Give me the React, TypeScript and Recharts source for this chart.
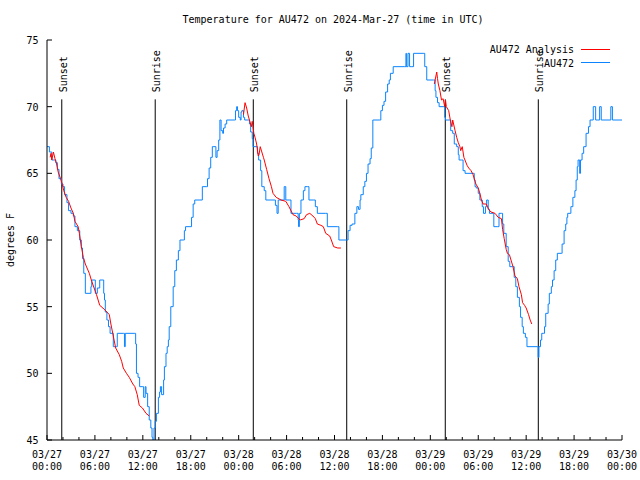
import React from 'react';
import { LineChart, Line, XAxis, YAxis, ReferenceLine } from 'recharts';

// ---------- data ----------
const obsHours = [
  0, 0.3, 0.6, 1.1, 1.3, 1.5, 1.8, 2.0, 2.2, 2.5, 2.7, 3.0, 3.3, 3.5, 3.8, 4.1, 4.3, 4.45, 4.6, 4.8,
  5.4, 5.5, 5.6, 5.9, 6.05, 6.3, 6.6, 7.0, 7.1, 7.2, 7.3, 7.5, 7.7, 7.9, 8.2, 8.3, 8.7, 8.8, 9.6, 9.7,
  9.8, 11.0, 11.1, 11.2, 11.4, 11.6, 12.0, 12.1, 12.3, 12.4, 12.6, 12.8, 13.0, 13.15, 13.25, 13.4, 13.55, 13.7, 13.95, 14.1,
  14.2, 14.35, 14.6, 14.7, 14.9, 15.05, 15.2, 15.3, 15.5, 15.8, 16.0, 16.2, 16.45, 16.65, 17.1, 17.2, 17.35, 17.9, 18.1, 18.3,
  18.5, 19.15, 19.45, 20.0, 20.1, 20.3, 20.5, 20.7, 20.9, 21.15, 21.3, 21.5, 21.65, 21.8, 22.0, 22.1, 22.3, 22.5, 23.45, 23.6,
  23.75, 23.85, 24.0, 24.2, 24.3, 24.4, 24.6, 24.75, 25.2, 25.35, 25.5, 25.7, 25.8, 26.2, 26.35, 26.5, 26.75, 26.9, 27.2, 27.4,
  28.45, 28.6, 28.8, 28.95, 29.6, 29.7, 29.9, 30.4, 30.55, 31.25, 31.45, 31.5, 31.6, 31.8, 32.1, 32.3, 32.6, 32.8, 33.4, 33.6,
  33.85, 34.9, 35.1, 36.35, 36.55, 37.5, 37.7, 37.95, 38.2, 38.55, 38.8, 39.0, 39.2, 39.3, 39.6, 39.8, 40.0, 40.2, 40.45, 40.6,
  40.8, 41.6, 41.8, 42.0, 42.2, 42.4, 42.65, 42.85, 43.0, 43.35, 44.8, 44.95, 45.0, 45.2, 45.4, 45.6, 45.9, 47.1, 47.3, 47.55,
  48.4, 48.6, 48.7, 48.9, 49.1, 49.6, 49.8, 49.9, 50.4, 50.55, 50.8, 51.0, 51.3, 51.5, 51.6, 51.9, 52.1, 52.35, 53.3, 53.5,
  53.6, 53.75, 54.0, 54.2, 54.4, 54.5, 54.65, 54.9, 55.05, 55.25, 55.4, 55.9, 55.95, 56.45, 56.6, 56.9, 57.05, 57.2, 57.5, 57.75,
  57.95, 58.3, 58.5, 58.7, 58.9, 59.15, 59.3, 59.5, 59.65, 59.9, 60.1, 61.4, 61.5, 61.6, 61.8, 61.95, 62.2, 62.3, 62.45, 62.75,
  62.9, 63.15, 63.3, 63.5, 63.7, 63.9, 64.4, 64.5, 64.75, 64.95, 65.1, 65.2, 65.5, 65.6, 65.85, 66.1, 66.25, 66.4, 66.5, 66.7,
  66.8, 67.0, 67.2, 67.5, 67.8, 68.0, 68.4, 68.7, 68.9, 69.2, 69.4, 70.5, 70.6, 70.8, 72
];
const obsTemps = [
  67, 66.6, 66, 65.8, 65.3, 64.6, 64.2, 64, 63.4, 62.8, 62.2, 62, 61.8, 61, 60.7, 60, 59.4, 58.6, 57.5, 56,
  56, 56.5, 57, 57, 56, 56.4, 57, 57, 56, 55.5, 54.6, 54, 53.5, 53, 53, 52, 52, 53, 53, 52,
  53, 53, 52.2, 50, 49.7, 49, 49, 48.2, 49, 48.5, 47.5, 46.5, 45.9, 45.2, 45, 45.9, 46.4, 47, 48.2, 48.6,
  49, 48.4, 49.5, 50.5, 51.5, 52, 52.5, 53.5, 55, 56.5, 57.7, 58.5, 59.2, 60, 60, 60.7, 61, 61, 61.7, 62.7,
  63, 63, 64, 64, 64.6, 65.4, 66.2, 67, 67, 66.2, 66.7, 67.5, 69, 68.2, 68, 68.4, 68.7, 69, 69, 69.7,
  70, 69.7, 69.2, 69, 69.6, 69.7, 69.2, 69, 69, 68.7, 68.1, 67.6, 67, 67, 66.5, 66, 65.2, 64, 63.7, 63,
  63, 62.6, 62, 63, 63, 64, 63, 63, 62, 62, 61.5, 61, 62, 63, 63.7, 64, 64, 63, 63, 62.5,
  62, 62, 61, 61, 60, 60, 60.7, 61.1, 61.2, 62, 62.5, 62.3, 63, 63.4, 64, 64.4, 65, 65.7, 66.1, 66.9,
  69, 69, 69.7, 70.1, 70.4, 71.1, 71.7, 72, 72.5, 73, 73, 74, 73, 74, 73, 73, 74, 74, 73, 72,
  72, 71.2, 70.7, 70.3, 70, 70, 69.2, 69, 69, 68.2, 68, 67.2, 67, 66.4, 66, 66, 65.2, 65, 65, 64.5,
  64, 63.9, 63.5, 63, 63, 62.5, 62, 62.5, 63, 62.3, 62, 62, 61, 61, 62, 62, 61.2, 60.5, 59.5, 58.4,
  58, 58, 57.2, 56.5, 55.7, 55, 54.2, 53.5, 53, 52.7, 52, 52, 51.2, 52, 52.5, 53, 53, 53.5, 54.5, 55.2,
  56, 56.5, 57, 57.7, 58.5, 59, 59, 59.7, 60.7, 61.2, 61.7, 62, 62, 62.5, 63.2, 63.7, 64.5, 65.5, 66, 65,
  66, 66.5, 67, 68, 68.5, 69, 70, 69, 69, 70, 69, 69, 70, 69, 69
];

const anaHours1 = [
  0.4, 0.5, 0.6, 0.8, 1.0, 1.2, 1.4, 1.7, 1.9, 2.1, 2.4, 2.7, 3.0, 3.3, 3.5, 3.9, 4.05, 4.3, 4.55, 4.8,
  5.3, 5.6, 5.9, 6.2, 6.6, 7.0, 7.5, 7.8, 8.0, 8.2, 8.4, 8.6, 9.05, 9.35, 9.55, 9.95, 10.3, 10.75, 11.0, 11.3,
  11.55, 11.95, 12.4, 12.8
];
const anaTemps1 = [
  66.2, 66.5, 66, 66.6, 66.1, 65.7, 65.1, 64.6, 64.2, 63.7, 63.2, 62.9, 62.4, 62, 61.4, 61, 60.5, 59.5, 58.7, 58.2,
  57.5, 56.9, 56.4, 55.9, 55.1, 54.9, 54.6, 54.4, 53.7, 53.1, 52.5, 51.9, 51.4, 50.9, 50.4, 50, 49.7, 49.2, 49, 48.4,
  47.6, 47.4, 47, 46.8
];
const anaHours2 = [
  24.6, 24.8, 25.0, 25.2, 25.6, 25.7, 25.9, 26.05, 26.25, 26.45, 26.55, 26.7, 26.9, 27.1, 27.2, 27.5, 27.8, 28.1, 28.3, 28.7,
  29.3, 29.9, 30.3, 30.8, 31.2, 31.7, 32.2, 32.5, 32.9, 33.3, 33.6, 33.85, 34.3, 34.6, 34.9, 35.4, 35.6, 35.9, 36.4, 36.8
];
const anaTemps2 = [
  69.4, 70.3, 69.9, 69.3, 68.5, 68.9, 68, 67.7, 67.2, 66.3, 66.4, 67, 66.6, 66.2, 66, 65.3, 64.6, 64, 63.5, 63.2,
  63, 62.9, 62.5, 61.9, 61.8, 61.5, 61.6, 61.9, 62, 61.8, 61.6, 61.2, 61.1, 61, 60.5, 60.3, 60, 59.5, 59.4, 59.4
];
const anaHours3 = [
  48.5, 48.8, 48.9, 49.0, 49.2, 49.4, 49.6, 49.8, 49.9, 50.0, 50.3, 50.5, 50.7, 50.8, 51.1, 51.3, 51.5, 51.7, 51.8, 52.0,
  52.2, 52.6, 52.8, 53.1, 53.35, 53.7, 54.0, 54.2, 54.4, 54.6, 55.0, 55.3, 55.6, 56.1, 56.5, 56.9, 57.05, 57.25, 57.5, 57.65,
  57.9, 58.1, 58.35, 58.6, 58.9, 59.1, 59.4, 59.55, 59.8, 60.0, 60.3, 60.5, 60.7
];
const anaTemps3 = [
  71.7, 72.6, 72.1, 71.7, 71.2, 70.5, 70.6, 70, 70.5, 70, 69.7, 69, 68.5, 69, 68.2, 67.7, 67.3, 67, 66.7, 67,
  66.2, 65.6, 65.4, 65.2, 64.9, 64.2, 63.9, 63.5, 63, 62.7, 62.7, 62.3, 62.1, 62, 61.7, 61.6, 60.8, 60.1, 59.3, 59,
  58.9, 58.5, 58, 57.3, 57.1, 56.5, 55.9, 55.3, 55.1, 54.9, 54.4, 54, 53.7
];

const sunEventHours = [1.85, 13.55, 25.83, 37.53, 49.87, 61.52];
const sunEventLabels = ['Sunset', 'Sunrise', 'Sunset', 'Sunrise', 'Sunset', 'Sunrise'];

const xTickHours = [0, 2, 4, 6, 8, 10, 12, 14, 16, 18, 20, 22, 24, 26, 28, 30, 32, 34, 36, 38, 40, 42, 44, 46, 48, 50, 52, 54, 56, 58, 60, 62, 64, 66, 68, 70, 72];
const xMajorDates = ['03/27', '03/27', '03/27', '03/27', '03/28', '03/28', '03/28', '03/28', '03/29', '03/29', '03/29', '03/29', '03/30'];
const xMajorTimes = ['00:00', '06:00', '12:00', '18:00', '00:00', '06:00', '12:00', '18:00', '00:00', '06:00', '12:00', '18:00', '00:00'];
const yTicks = [45, 50, 55, 60, 65, 70, 75];

const TITLE = 'Temperature for AU472 on 2024-Mar-27 (time in UTC)';
const Y_LABEL = 'degrees F';
const SERIES_ANALYSIS = 'AU472 Analysis';
const SERIES_OBS = 'AU472';

// ---------- build ----------
const toPts = (hs: number[], vs: number[]) => hs.map((t, i) => ({ t, v: vs[i] }));
const obsData = toPts(obsHours, obsTemps);
const anaData1 = toPts(anaHours1, anaTemps1);
const anaData2 = toPts(anaHours2, anaTemps2);
const anaData3 = toPts(anaHours3, anaTemps3);

const FONT = '"DejaVu Sans Mono", "Liberation Mono", monospace';
const FS = 10;
const RED = '#ff0000';
const BLUE = '#0a84ff';

const XTick = (props: any) => {
  const { x, y, payload } = props;
  const h = payload.value as number;
  const major = h % 6 === 0;
  const idx = h / 6;
  return (
    <g>
      <line x1={x} x2={x} y1={y} y2={y - (major ? 5 : 3)} stroke="#000" />
      {major && (
        <text x={x} y={y + 17.5} textAnchor="middle" fontFamily={FONT} fontSize={FS} fill="#000">
          {xMajorDates[idx]}
        </text>
      )}
      {major && (
        <text x={x} y={y + 29.5} textAnchor="middle" fontFamily={FONT} fontSize={FS} fill="#000">
          {xMajorTimes[idx]}
        </text>
      )}
    </g>
  );
};

const XTickTop = (props: any) => {
  const { x, y, payload } = props;
  const h = payload.value as number;
  const major = h % 6 === 0;
  return <line x1={x} x2={x} y1={y} y2={y + (major ? 5 : 3)} stroke="#000" />;
};

const YTick = (props: any) => {
  const { x, y, payload } = props;
  return (
    <g>
      <line x1={x} x2={x + 5} y1={y} y2={y} stroke="#000" />
      <text x={x - 8.5} y={y + 4} textAnchor="end" fontFamily={FONT} fontSize={FS} fill="#000">
        {payload.value}
      </text>
    </g>
  );
};

const YTickRight = (props: any) => {
  const { x, y } = props;
  return <line x1={x - 5} x2={x} y1={y} y2={y} stroke="#000" />;
};

const makeSunLabel = (text: string) => (props: any) => {
  const vb = props.viewBox || {};
  const x = (vb.x ?? 0) + 5;
  const y = (vb.y ?? 0) - 7;
  return (
    <text
      x={x}
      y={y}
      transform={`rotate(-90, ${x}, ${y})`}
      textAnchor="start"
      fontFamily={FONT}
      fontSize={FS}
      fill="#000"
    >
      {text}
    </text>
  );
};

const YLabel = (props: any) => {
  const vb = props.viewBox || {};
  const x = (vb.x ?? 0) + 14;
  const y = (vb.y ?? 0) + (vb.height ?? 0) / 2;
  return (
    <text x={x} y={y} transform={`rotate(-90, ${x}, ${y})`} textAnchor="middle" fontFamily={FONT} fontSize={FS} fill="#000">
      {Y_LABEL}
    </text>
  );
};

export default function App() {
  return (
    <div style={{ position: 'absolute', left: 0, top: 0, width: 640, height: 480, background: '#fff' }}>
      <LineChart width={640} height={480} margin={{ top: 40, right: 18, bottom: 0, left: 0 }}>
        <XAxis
          dataKey="t"
          type="number"
          domain={[0, 72]}
          ticks={xTickHours}
          interval={0}
          height={40}
          tickSize={0}
          tickMargin={0}
          tickLine={false}
          axisLine={{ stroke: '#000' }}
          tick={(p: any) => <XTick {...p} />}
          allowDataOverflow
        />
        <XAxis
          xAxisId="top"
          orientation="top"
          type="number"
          domain={[0, 72]}
          ticks={xTickHours}
          interval={0}
          height={0}
          tickSize={0}
          tickMargin={0}
          tickLine={false}
          axisLine={{ stroke: '#000' }}
          tick={(p: any) => <XTickTop {...p} />}
          allowDataOverflow
        />
        <YAxis
          type="number"
          domain={[45, 75]}
          ticks={yTicks}
          interval={0}
          width={47}
          tickSize={0}
          tickMargin={0}
          tickLine={false}
          axisLine={{ stroke: '#000' }}
          tick={(p: any) => <YTick {...p} />}
          label={(p: any) => <YLabel {...p} />}
          allowDataOverflow
        />
        <YAxis
          yAxisId="r"
          orientation="right"
          type="number"
          domain={[45, 75]}
          ticks={yTicks}
          interval={0}
          width={0}
          tickSize={0}
          tickMargin={0}
          tickLine={false}
          axisLine={{ stroke: '#000' }}
          tick={(p: any) => <YTickRight {...p} />}
          allowDataOverflow
        />
        {sunEventHours.map((h, i) => (
          <ReferenceLine
            key={'sun' + i}
            segment={[{ x: h, y: 45 }, { x: h, y: 70.55 }]}
            stroke="#000"
            strokeWidth={1}
            label={makeSunLabel(sunEventLabels[i])}
          />
        ))}
        <Line data={obsData} dataKey="v" type="stepAfter" stroke={BLUE} strokeWidth={1} dot={false} isAnimationActive={false} name={SERIES_OBS} />
        <Line data={anaData1} dataKey="v" type="linear" stroke={RED} strokeWidth={1} dot={false} isAnimationActive={false} name={SERIES_ANALYSIS} />
        <Line data={anaData2} dataKey="v" type="linear" stroke={RED} strokeWidth={1} dot={false} isAnimationActive={false} name={SERIES_ANALYSIS} />
        <Line data={anaData3} dataKey="v" type="linear" stroke={RED} strokeWidth={1} dot={false} isAnimationActive={false} name={SERIES_ANALYSIS} />
      </LineChart>
      <svg width={640} height={480} style={{ position: 'absolute', left: 0, top: 0, pointerEvents: 'none' }}>
        <text x={333} y={23} textAnchor="middle" fontFamily={FONT} fontSize={FS} fill="#000">{TITLE}</text>
        <text x={574} y={53} textAnchor="end" fontFamily={FONT} fontSize={FS} fill="#000">{SERIES_ANALYSIS}</text>
        <line x1={581} x2={610} y1={49.5} y2={49.5} stroke={RED} strokeWidth={1} />
        <text x={574} y={66.5} textAnchor="end" fontFamily={FONT} fontSize={FS} fill="#000">{SERIES_OBS}</text>
        <line x1={581} x2={610} y1={62.5} y2={62.5} stroke={BLUE} strokeWidth={1} />
      </svg>
    </div>
  );
}
